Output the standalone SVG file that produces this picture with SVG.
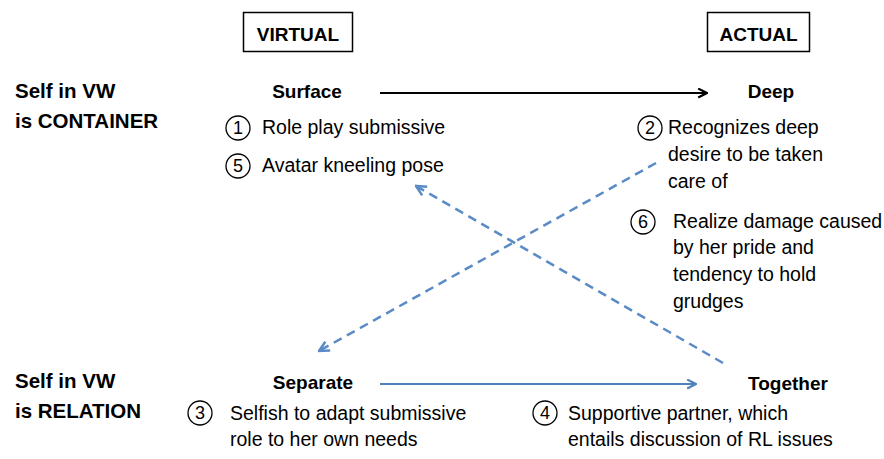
<svg xmlns="http://www.w3.org/2000/svg" width="884" height="459" viewBox="0 0 884 459">
<style>
text{font-family:"Liberation Sans",Arial,sans-serif;fill:#000}
.h{font-weight:bold;font-size:19px}
.s{font-weight:bold;font-size:20.5px}
.t{font-size:19.5px}
.c{font-size:18px;text-anchor:middle}
.num{fill:none;stroke:#000;stroke-width:1.3}
.blk{stroke:#000;stroke-width:2.2;fill:none}
.blu{stroke:#4f81bd;stroke-width:2.2;fill:none}
.dash{stroke:#5a8bc6;stroke-width:2.5;fill:none;stroke-dasharray:9,6}
</style>
<defs>
<marker id="ab" viewBox="0 0 10 10" refX="9" refY="5" markerWidth="5" markerHeight="5" orient="auto" markerUnits="strokeWidth">
<path d="M1,1 L9,5 L1,9" fill="none" stroke="#000" stroke-width="2"/>
</marker>
<marker id="au" viewBox="0 0 10 10" refX="9" refY="5" markerWidth="5" markerHeight="5" orient="auto" markerUnits="strokeWidth">
<path d="M1,1 L9,5 L1,9" fill="none" stroke="#4f81bd" stroke-width="2"/>
</marker>
<marker id="ad" viewBox="0 0 10 10" refX="9" refY="5" markerWidth="5" markerHeight="5" orient="auto" markerUnits="strokeWidth">
<path d="M1,1 L9,5 L1,9" fill="none" stroke="#5a8bc6" stroke-width="2"/>
</marker>
</defs>
<rect width="884" height="459" fill="#fff"/>

<g id="virtual">
<rect x="243.5" y="12.5" width="109" height="39" fill="none" stroke="#000" stroke-width="1.5"/>
<text x="298" y="41" class="h" text-anchor="middle" font-size="20">VIRTUAL</text>
</g>
<g id="actual">
<rect x="707.5" y="12.5" width="102" height="39" fill="none" stroke="#000" stroke-width="1.5"/>
<text x="758.5" y="41" class="h" text-anchor="middle" font-size="20">ACTUAL</text>
</g>

<g id="row-container">
<text x="15" y="98" class="s">Self in VW</text>
<text x="15" y="128" class="s">is CONTAINER</text>
</g>
<g id="row-relation">
<text x="15" y="388" class="s">Self in VW</text>
<text x="15" y="418" class="s">is RELATION</text>
</g>

<g id="surface">
<text x="307" y="98" class="h" text-anchor="middle">Surface</text>
<circle cx="238" cy="128" r="12" class="num"/><text x="238" y="134" class="c">1</text>
<text x="262" y="134" class="t">Role play submissive</text>
<circle cx="238" cy="166" r="12" class="num"/><text x="238" y="172" class="c">5</text>
<text x="262" y="172" class="t">Avatar kneeling pose</text>
</g>

<g id="deep">
<text x="771" y="98" class="h" text-anchor="middle">Deep</text>
<circle cx="650" cy="128" r="12" class="num"/><text x="650" y="134" class="c">2</text>
<text x="668" y="134" class="t">Recognizes deep</text>
<text x="668" y="161" class="t">desire to be taken</text>
<text x="668" y="188" class="t">care of</text>
<circle cx="643" cy="222" r="12" class="num"/><text x="643" y="228" class="c">6</text>
<text x="673" y="228" class="t">Realize damage caused</text>
<text x="673" y="254" class="t">by her pride and</text>
<text x="673" y="281" class="t">tendency to hold</text>
<text x="673" y="308" class="t">grudges</text>
</g>

<g id="separate">
<text x="313" y="389" class="h" text-anchor="middle">Separate</text>
<circle cx="200" cy="413" r="12" class="num"/><text x="200" y="419" class="c">3</text>
<text x="230" y="420" class="t">Selfish to adapt submissive</text>
<text x="230" y="446" class="t">role to her own needs</text>
</g>

<g id="together">
<text x="788" y="390" class="h" text-anchor="middle">Together</text>
<circle cx="545" cy="413" r="12" class="num"/><text x="545" y="419" class="c">4</text>
<text x="568" y="420" class="t">Supportive partner, which</text>
<text x="568" y="446" class="t">entails discussion of RL issues</text>
</g>

<g id="connectors">
<line x1="380" y1="93" x2="707" y2="93" class="blk" marker-end="url(#ab)"/>
<line x1="380" y1="384" x2="696" y2="384" class="blu" marker-end="url(#au)"/>
<line x1="656" y1="163" x2="319" y2="351" class="dash" marker-end="url(#ad)"/>
<line x1="723" y1="363" x2="416" y2="186" class="dash" marker-end="url(#ad)"/>
</g>
</svg>
